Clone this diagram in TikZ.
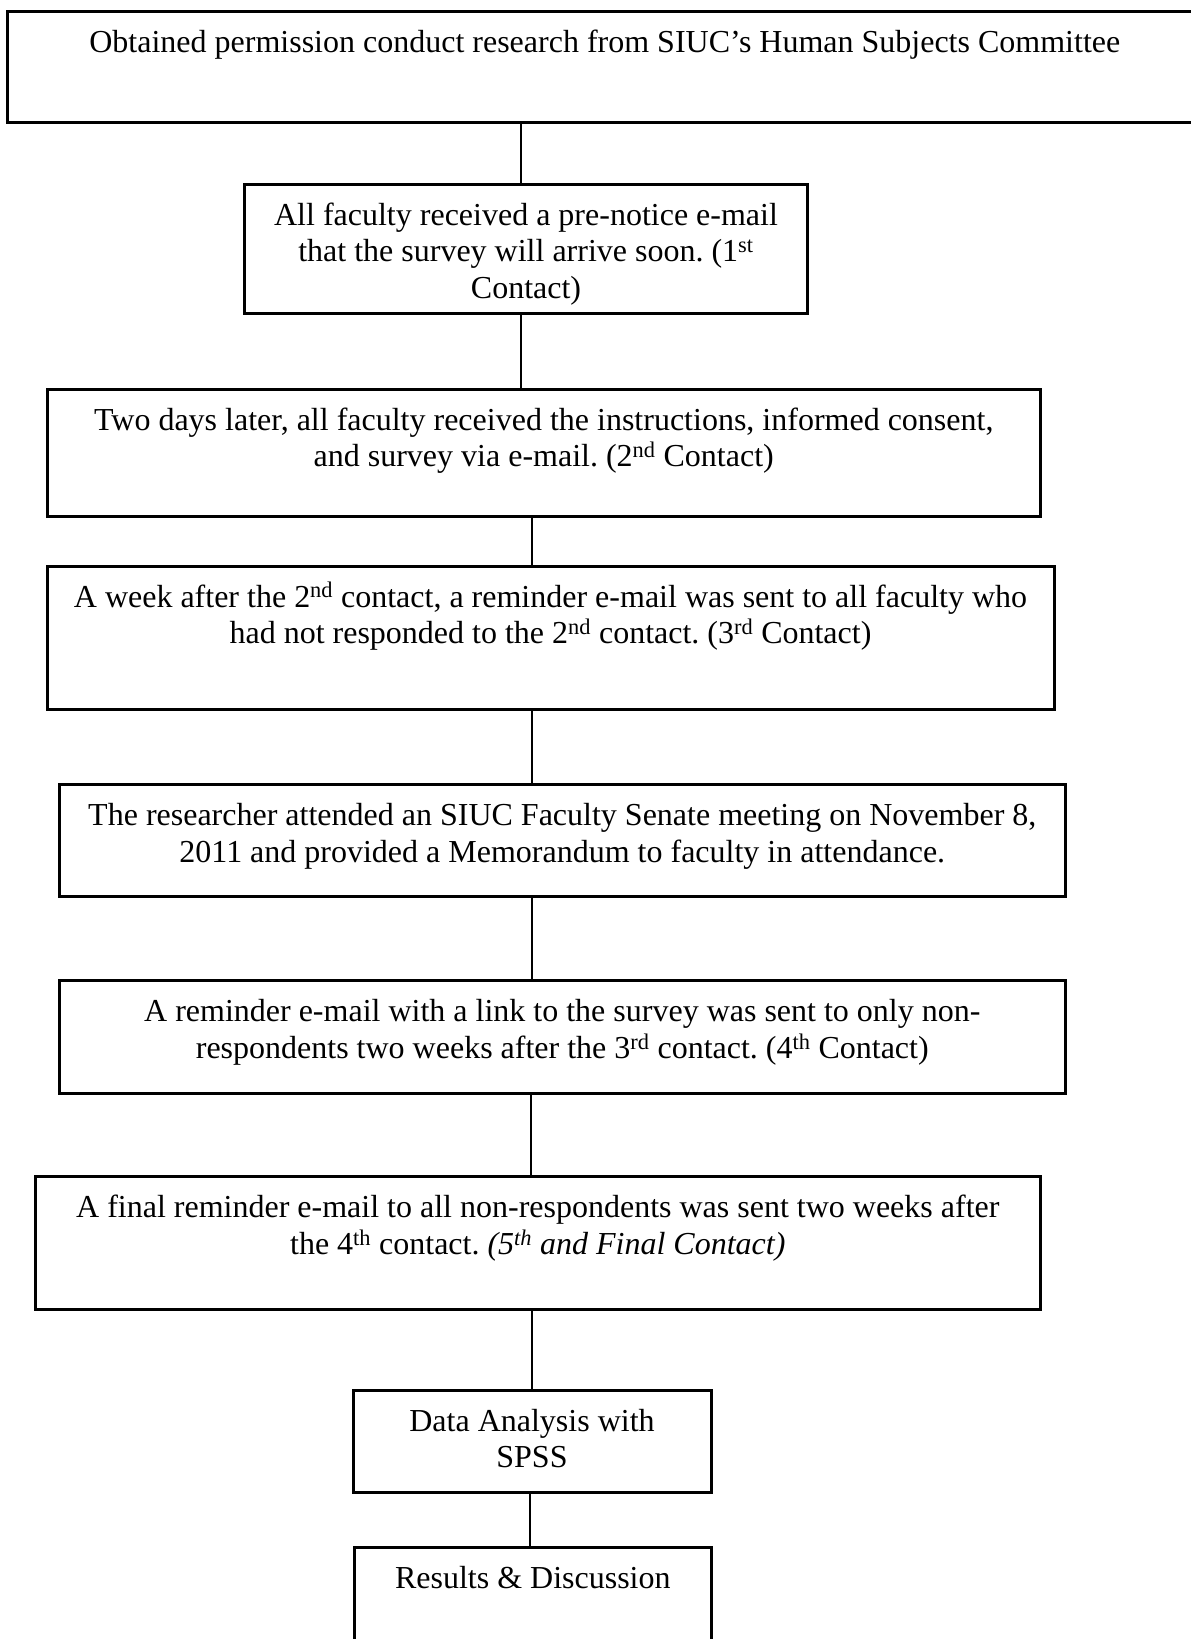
\documentclass[tikz,border=0pt]{standalone}
\usepackage{fontspec}
\setmainfont{Liberation Serif}
\usepackage{tikz}
\frenchspacing
\tikzset{%
        stage/.style = { draw, line width=3pt, anchor=north west, align=flush center,
                         inner xsep=0pt, inner ysep=0pt, outer sep=0pt, text height=41pt,
                         font=\fontsize{32}{36.6}\selectfont },
         link/.style = { line width=2pt }
}

\begin{document}
\begin{tikzpicture}[x=1pt,y=-1pt]
  \useasboundingbox (0,0) rectangle (1191,1639);

  \node[stage, text width=1194.4pt, text depth=70pt]   (consent)   at (7.6,11)    {Obtained permission conduct research from SIUC's Human Subjects Committee};
  \node[stage, text width=562.8pt,  text depth=88pt]   (prenotice) at (244.6,184.3) {All faculty received a pre-notice e-mail\\ that the survey will arrive soon. (1\textsuperscript{st}\\ Contact)};
  \node[stage, text width=993.5pt,  text depth=86.7pt] (survey)    at (47,389)    {Two days later, all faculty received the instructions, informed consent,\\ and survey via e-mail. (2\textsuperscript{nd} Contact)};
  \node[stage, text width=1007pt,   text depth=102pt]  (reminder)  at (47,566)    {A week after the 2\textsuperscript{nd} contact, a reminder e-mail was sent to all faculty who\\ had not responded to the 2\textsuperscript{nd} contact. (3\textsuperscript{rd} Contact)};
  \node[stage, text width=1006.6pt, text depth=71pt]   (senate)    at (59,784.7)  {The researcher attended an SIUC Faculty Senate meeting on November 8,\\ 2011 and provided a Memorandum to faculty in attendance.};
  \node[stage, text width=1006.6pt, text depth=71.3pt] (nonresp)   at (59,980.7)  {A reminder e-mail with a link to the survey was sent to only non-\\ respondents two weeks after the 3\textsuperscript{rd} contact. (4\textsuperscript{th} Contact)};
  \node[stage, text width=1005.6pt, text depth=91.3pt] (final)     at (35,1176.7) {A final reminder e-mail to all non-respondents was sent two weeks after\\ the 4\textsuperscript{th} contact. \textit{(5\textsuperscript{th} and Final Contact)}};
  \node[stage, text width=358pt,    text depth=61pt]   (analysis)  at (353,1390)  {Data Analysis with\\ SPSS};
  \node[stage, text width=357.7pt,  text depth=69pt]   (results)   at (354,1547)  {Results \& Discussion};

  \draw[link] (consent.south -| 521,0)   -- (prenotice.north -| 521,0);
  \draw[link] (prenotice.south -| 521,0) -- (survey.north -| 521,0);
  \draw[link] (survey.south -| 532,0)    -- (reminder.north -| 532,0);
  \draw[link] (reminder.south -| 532,0)  -- (senate.north -| 532,0);
  \draw[link] (senate.south -| 532,0)    -- (nonresp.north -| 532,0);
  \draw[link] (nonresp.south -| 531,0)   -- (final.north -| 531,0);
  \draw[link] (final.south -| 532,0)     -- (analysis.north -| 532,0);
  \draw[link] (analysis.south -| 530,0)  -- (results.north -| 530,0);
\end{tikzpicture}
\end{document}
